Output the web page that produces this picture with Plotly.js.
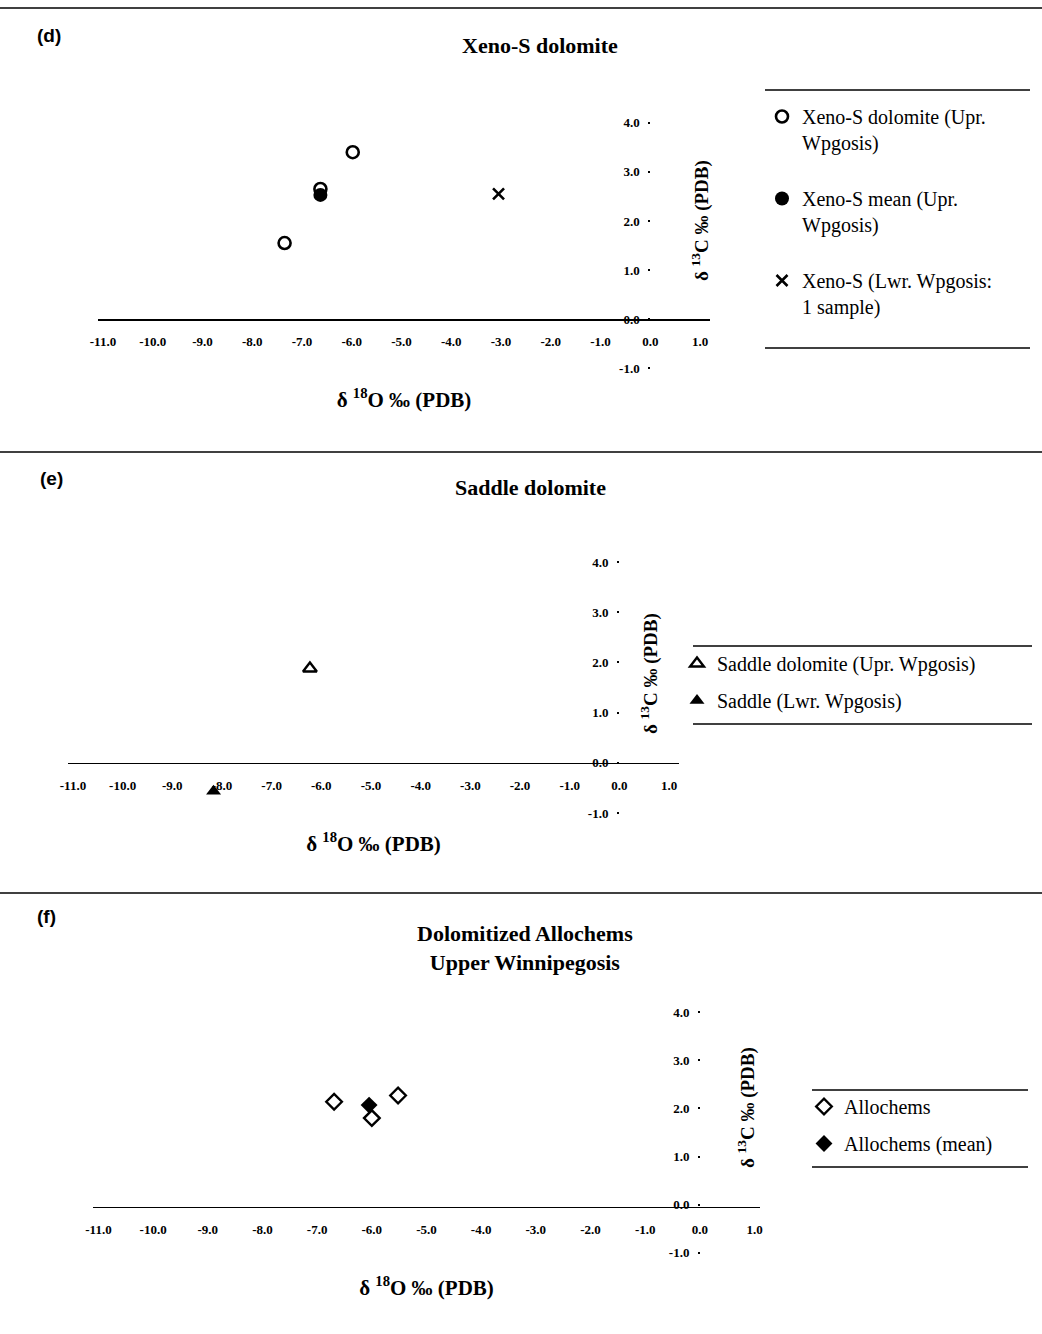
<!DOCTYPE html>
<html>
<head>
<meta charset="utf-8">
<script src="https://cdn.plot.ly/plotly-3.0.1.min.js"></script>
<style>html,body{margin:0;padding:0;background:#fff;}#chart{width:1042px;height:1334px;}</style>
</head>
<body>
<div id="chart"></div>
<script>
// ---- data ----
const xTickVals = [-11, -10, -9, -8, -7, -6, -5, -4, -3, -2, -1, 0, 1];
const xTickText = ['-11.0', '-10.0', '-9.0', '-8.0', '-7.0', '-6.0', '-5.0', '-4.0', '-3.0', '-2.0', '-1.0', '0.0', '1.0'];
const yTickVals = [4, 3, 2, 1, 0, -1];
const yTickText = ['4.0', '3.0', '2.0', '1.0', '0.0', '-1.0'];

// (d) Xeno-S dolomite
const dUprX = [-7.35, -5.98, -6.63];
const dUprY = [1.55, 3.40, 2.65];
const dMeanX = [-6.63];
const dMeanY = [2.53];
const dLwrX = [-3.05];
const dLwrY = [2.55];

// (e) Saddle dolomite
const eUprX = [-6.23];
const eUprY = [1.88];
const eLwrX = [-8.17];
const eLwrY = [-0.57];

// (f) Dolomitized allochems
const fAlloX = [-6.69, -5.52, -6.00];
const fAlloY = [2.14, 2.27, 1.80];
const fMeanX = [-6.05];
const fMeanY = [2.07];

const titles = ['Xeno-S dolomite', 'Saddle dolomite', 'Dolomitized Allochems<br>Upper Winnipegosis'];
const panelLabels = ['(d)', '(e)', '(f)'];
const xTitle = 'δ <sup>18</sup>O ‰ (PDB)';
const yTitle = 'δ <sup>13</sup>C ‰ (PDB)';

// ---- layout helpers ----
const W = 1042, H = 1334;
const px = v => v / W;
const py = v => 1 - v / H;
const SERIF = 'Liberation Serif, Times New Roman, serif';
const SANS = 'Liberation Sans, Arial, sans-serif';

// panel geometry (pixels)
const P = [
  {xl: 98, xr: 710, xr0: [-11.1, 1.2], yt: 108, yb: 383, x0: 650.3, y0: 319.2},
  {xl: 68, xr: 679, xr0: [-11.1, 1.2], yt: 547, yb: 828, x0: 619.0, y0: 762.6},
  {xl: 93, xr: 760, xr0: [-11.1, 1.1], yt: 998, yb: 1267, x0: 700.0, y0: 1206.6}
];

const tickFont = {family: SERIF, size: 13, color: '#000', weight: 'bold'};
const layout = {
  width: W, height: H,
  margin: {l: 0, r: 0, t: 0, b: 0},
  paper_bgcolor: '#fff', plot_bgcolor: 'rgba(0,0,0,0)',
  showlegend: true,
  annotations: [], shapes: []
};

P.forEach((p, i) => {
  const s = i === 0 ? '' : String(i + 1);
  layout['xaxis' + s] = {
    domain: [px(p.xl), px(p.xr)], range: p.xr0,
    anchor: 'free', position: py(p.y0),
    showline: true, linecolor: '#000', linewidth: 1.6,
    showgrid: false, zeroline: false, ticks: '',
    tickmode: 'array', tickvals: xTickVals, ticktext: xTickText,
    tickfont: tickFont, ticklabelstandoff: 10,
    title: {text: xTitle, font: {family: SERIF, size: 21, color: '#000', weight: 'bold'}, standoff: 44},
    fixedrange: true
  };
  layout['yaxis' + s] = {
    domain: [py(p.yb), py(p.yt)], range: [-1.3, 4.3],
    anchor: 'free', position: px(p.x0),
    showline: false, showgrid: false, zeroline: false,
    ticks: 'outside', ticklen: 2, tickwidth: 2, tickcolor: '#000',
    tickmode: 'array', tickvals: yTickVals, ticktext: yTickText,
    tickfont: tickFont, ticklabelstandoff: 6,
    fixedrange: true
  };
});

// separator lines
[8, 452, 893].forEach(y => layout.shapes.push({type: 'line', xref: 'paper', yref: 'paper',
  x0: 0, x1: 1, y0: py(y), y1: py(y), line: {color: '#000', width: 1.6}}));
// legend rules
[[765, 1030, 90, 348], [693, 1032, 646, 724], [812, 1028, 1090, 1167]].forEach(b => {
  [b[2], b[3]].forEach(y => layout.shapes.push({type: 'line', xref: 'paper', yref: 'paper',
    x0: px(b[0]), x1: px(b[1]), y0: py(y), y1: py(y), line: {color: '#000', width: 1.4}}));
});

// panel labels and titles
const labelPos = [[35, 35], [38, 478], [35, 916]];
const titlePos = [[540, 46], [530, 487], [525, 948]];
panelLabels.forEach((t, i) => {
  layout.annotations.push({text: '<b>' + t + '</b>', xref: 'paper', yref: 'paper',
    x: px(labelPos[i][0]), y: py(labelPos[i][1]), xanchor: 'left', yanchor: 'middle', showarrow: false,
    font: {family: SANS, size: 19, color: '#000'}});
  layout.annotations.push({text: '<b>' + titles[i].replace('<br>', '</b><br><b>') + '</b>', xref: 'paper', yref: 'paper',
    x: px(titlePos[i][0]), y: py(titlePos[i][1]), xanchor: 'center', yanchor: 'middle', showarrow: false,
    font: {family: SERIF, size: 22, color: '#000'}});
});
// y-axis titles
const yTitlePos = [[701, 221], [649, 674], [746, 1108]];
yTitlePos.forEach(pp => layout.annotations.push({text: '<b>' + yTitle + '</b>', xref: 'paper', yref: 'paper',
  x: px(pp[0]), y: py(pp[1]), xanchor: 'center', yanchor: 'middle', textangle: -90, showarrow: false,
  font: {family: SERIF, size: 19, color: '#000'}}));

const legBase = {xanchor: 'left', yanchor: 'top', bgcolor: 'rgba(0,0,0,0)', borderwidth: 0,
  font: {family: SERIF, size: 20, color: '#000'}, traceorder: 'grouped', valign: 'top', itemwidth: 30};
layout.legend = Object.assign({}, legBase, {x: px(762), y: py(97), tracegroupgap: 27});
layout.legend2 = Object.assign({}, legBase, {x: px(677), y: py(644), tracegroupgap: 8});
layout.legend3 = Object.assign({}, legBase, {x: px(804), y: py(1087), tracegroupgap: 8});

const K = '#000';
const traces = [
  {x: dUprX, y: dUprY, xaxis: 'x', yaxis: 'y', name: 'Xeno-S dolomite (Upr.<br>Wpgosis)', legend: 'legend', legendgroup: 'd1',
   mode: 'markers', marker: {symbol: 'circle-open', size: 12, color: K, line: {width: 2.6, color: K}}},
  {x: dMeanX, y: dMeanY, xaxis: 'x', yaxis: 'y', name: 'Xeno-S mean (Upr.<br>Wpgosis)', legend: 'legend', legendgroup: 'd2',
   mode: 'markers', marker: {symbol: 'circle', size: 14, color: K}},
  {x: dLwrX, y: dLwrY, xaxis: 'x', yaxis: 'y', name: 'Xeno-S (Lwr. Wpgosis:<br>1 sample)', legend: 'legend', legendgroup: 'd3',
   mode: 'markers', marker: {symbol: 'x-thin-open', size: 11, color: K, line: {width: 2.6, color: K}}},
  {x: eUprX, y: eUprY, xaxis: 'x2', yaxis: 'y2', name: 'Saddle dolomite (Upr. Wpgosis)', legend: 'legend2', legendgroup: 'e1',
   mode: 'markers', marker: {symbol: 'triangle-up-open', size: 12, color: K, line: {width: 2.4, color: K}}},
  {x: eLwrX, y: eLwrY, xaxis: 'x2', yaxis: 'y2', name: 'Saddle (Lwr. Wpgosis)', legend: 'legend2', legendgroup: 'e2',
   mode: 'markers', marker: {symbol: 'triangle-up', size: 13, color: K}},
  {x: fAlloX, y: fAlloY, xaxis: 'x3', yaxis: 'y3', name: 'Allochems', legend: 'legend3', legendgroup: 'f1',
   mode: 'markers', marker: {symbol: 'diamond-open', size: 12, color: K, line: {width: 2.4, color: K}}},
  {x: fMeanX, y: fMeanY, xaxis: 'x3', yaxis: 'y3', name: 'Allochems (mean)', legend: 'legend3', legendgroup: 'f2',
   mode: 'markers', marker: {symbol: 'diamond', size: 13, color: K}}
];

Plotly.newPlot('chart', traces, layout, {staticPlot: true, displayModeBar: false});
</script>
</body>
</html>
